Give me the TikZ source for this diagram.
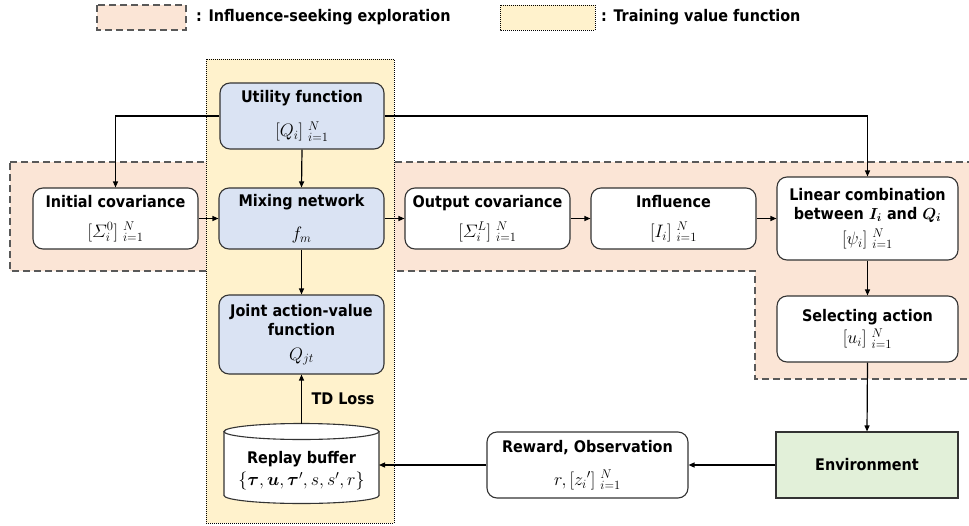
\RequirePackage{fix-cm}
\documentclass[tikz,border=0pt]{standalone}
\usepackage{amsmath}
\usepackage{fontspec}
\newfontfamily\labelfont{DejaVu Sans Condensed}
\usetikzlibrary{arrows.meta}

\definecolor{boxline}{HTML}{333333}
\definecolor{bluefill}{HTML}{DAE3F3}
\definecolor{greenfill}{HTML}{E2F0D9}
\definecolor{salmonfill}{HTML}{FBE5D6}
\definecolor{salmonline}{HTML}{595959}
\definecolor{yellowfill}{HTML}{FFF2CC}

\newcommand{\mth}[1]{{\fontsize{18}{20}\selectfont$#1$}}
\newcommand{\mthin}[1]{{\fontsize{16}{19}\selectfont$#1$}}

\tikzset{
  block/.style={draw=boxline, line width=1.1pt, rounded corners=10pt, fill=white,
    align=center, inner sep=0pt, text=black,
    font=\labelfont\bfseries\fontsize{16}{19}\selectfont},
  blueblock/.style={block, fill=bluefill},
  envblock/.style={block, rounded corners=0pt, fill=greenfill},
  conn/.style={draw=black, line width=1.2pt, -{Triangle[length=6pt,width=5pt]}},
  explore/.style={fill=salmonfill, draw=salmonline, line width=1.3pt, dash pattern=on 7pt off 4pt},
  training/.style={fill=yellowfill, draw=black, line width=1pt, dash pattern=on 1pt off 1pt},
  legendtext/.style={inner sep=0pt, text=black, font=\labelfont\bfseries\fontsize{16}{19}\selectfont},
}

\begin{document}
\begin{tikzpicture}[x=1pt,y=-1pt]
\useasboundingbox (0,0) rectangle (969,525);
\clip (0,0) rectangle (969,525);

% legend
\draw[explore] (97,5) rectangle (186,30);
\node[legendtext, anchor=west] (leg-explore) at (196,17.5) {: Influence-seeking exploration};
\draw[training] (500,5) rectangle (595,30);
\node[legendtext, anchor=west] (leg-train) at (601,17.5) {: Training value function};

% shaded regions
\path[explore] (10,162) -- (985,162) -- (985,379) -- (755,379) -- (755,271) -- (10,271) -- cycle;
\draw[training] (206,59) rectangle (394,523);

% boxes
\node[blueblock, minimum width=164pt, minimum height=66pt] (util) at (302,116)
  {Utility function\\[15pt]\mth{[Q_i]\;{}^{N}_{i=1}}};
\node[block, minimum width=165pt, minimum height=61pt] (init) at (115.5,218.5)
  {Initial covariance\\[11pt]\mth{[\varSigma_i^0]\;{}^{N}_{i=1}}};
\node[blueblock, minimum width=165pt, minimum height=61pt] (mix) at (301.5,218.5)
  {Mixing network\\[14pt]\mth{f_m}};
\node[block, minimum width=165pt, minimum height=61pt] (out) at (487.5,218.5)
  {Output covariance\\[11pt]\mth{[\varSigma_i^L]\;{}^{N}_{i=1}}};
\node[block, minimum width=165pt, minimum height=61pt] (infl) at (673.5,218.5)
  {Influence\\[11pt]\mth{[I_i]\;{}^{N}_{i=1}}};
\node[block, minimum width=181pt, minimum height=83pt] (lin) at (867.5,218.5)
  {Linear combination\\between \mthin{\boldsymbol{I_i}} and \mthin{\boldsymbol{Q_i}}\\[6pt]\mth{[\psi_i]\;{}^{N}_{i=1}}};
\node[block, minimum width=181pt, minimum height=66pt] (sel) at (867.5,329)
  {Selecting action\\[3pt]\mth{[u_i]\;{}^{N}_{i=1}}};
\node[blueblock, minimum width=165pt, minimum height=79pt] (joint) at (301.5,334.5)
  {Joint action-value\\function\\[6pt]\mth{Q_{jt}}};
\node[block, minimum width=201pt, minimum height=66pt] (rew) at (587.5,465)
  {Reward, Observation\\[14pt]\mth{r,[{z_i}']\;{}^{N}_{i=1}}};
\node[envblock, minimum width=182pt, minimum height=66pt] (env) at (867,465)
  {Environment};

% replay buffer drum
\path[fill=white] (224,431.5) -- (224,495.5)
  arc[start angle=180, end angle=360, x radius=77.5pt, y radius=8pt] -- (379,431.5) -- cycle;
\draw[draw=boxline, line width=1.1pt] (224,431.5) -- (224,495.5)
  arc[start angle=180, end angle=360, x radius=77.5pt, y radius=8pt] -- (379,431.5);
\draw[draw=boxline, line width=1.1pt, fill=white] (301.5,431.5) ellipse [x radius=77.5pt, y radius=8pt];
\node[align=center, inner sep=0pt, font=\labelfont\bfseries\fontsize{16}{19}\selectfont] (buf) at (301.5,471)
  {Replay buffer\\[3pt]\mth{\{\boldsymbol{\tau},\boldsymbol{u},\boldsymbol{\tau}',s,s',r\}}};
\coordinate (buf-top) at (301.5,423.5);
\coordinate (buf-side) at (379,465);

\node[legendtext] (tdloss) at (343,399) {TD Loss};

% connectors
\draw[conn] (util.south) -- (mix.north);
\draw[conn] (util.west) -| (init.north);
\draw[conn] (util.east) -| (lin.north);
\draw[conn] (init.east) -- (mix.west);
\draw[conn] (mix.east) -- (out.west);
\draw[conn] (out.east) -- (infl.west);
\draw[conn] (infl.east) -- (lin.west);
\draw[conn] (lin.south) -- (sel.north);
\draw[conn] (sel.south) -- (env.north);
\draw[conn] (env.west) -- (rew.east);
\draw[conn] (rew.west) -- (buf-side);
\draw[conn] (mix.south) -- (joint.north);
\draw[conn] (buf-top) -- (joint.south);
\end{tikzpicture}
\end{document}
